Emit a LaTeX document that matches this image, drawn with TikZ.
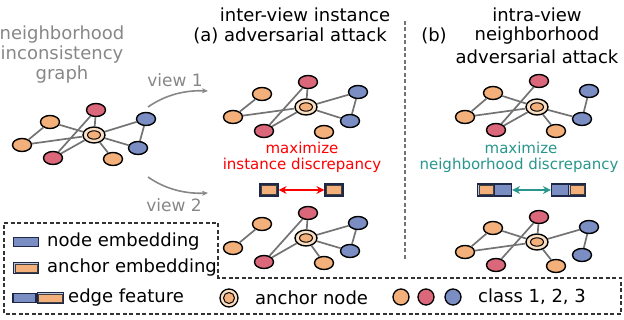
\documentclass[tikz,border=0pt]{standalone}
\usepackage{fontspec}
\setmainfont{DejaVu Sans}
\usetikzlibrary{shapes.geometric,arrows.meta}
\definecolor{orC}{RGB}{244,176,122}
\definecolor{rdC}{RGB}{218,104,122}
\definecolor{blC}{RGB}{122,142,196}
\definecolor{crC}{RGB}{250,224,196}
\definecolor{edC}{RGB}{115,115,115}
\definecolor{txG}{RGB}{135,135,135}
\definecolor{navy}{RGB}{30,40,70}
\definecolor{tealC}{RGB}{40,150,140}
\definecolor{embBg}{RGB}{190,196,215}
\newcommand\mkgraph[9]{%
 \node[rdn] (#1rt) at (#2) {};
 \node[orn] (#1ot) at (#3) {};
 \node[anc] (#1a) at (#4) {};
 \draw[fill=orC,line width=1pt] (#1a.center) ellipse (6.5pt and 4.2pt);
 \node[orn] (#1ol) at (#5) {};
 \node[bln] (#1bt) at (#6) {};
 \node[bln] (#1bb) at (#7) {};
 \node[rdn] (#1rb) at (#8) {};
 \node[orn] (#1ob) at (#9) {};
}
\newcommand\innerbox[1]{%
 \draw[fill=orC,draw=black!75,line width=0.6pt] ([shift={(2pt,-2pt)}]#1.north west) rectangle ([shift={(-2pt,2pt)}]#1.south east);}
\begin{document}
\begin{tikzpicture}[x=1pt,y=-1pt,
 gn/.style={ellipse,draw=black,line width=1.4pt,minimum width=19pt,minimum height=13pt,inner sep=0pt},
 orn/.style={gn,fill=orC}, rdn/.style={gn,fill=rdC}, bln/.style={gn,fill=blC},
 anc/.style={gn,fill=crC,minimum width=22pt,minimum height=16pt},
 ge/.style={draw=edC,line width=1.7pt},
 nemb/.style={rectangle,draw=navy,fill=blC,line width=1.2pt,minimum width=17pt,minimum height=12pt,inner sep=0pt},
 aemb/.style={rectangle,draw=navy,fill=embBg,line width=1.2pt,minimum width=18pt,minimum height=12pt,inner sep=0pt},
 lbl/.style={inner sep=0pt,font=\fontsize{18}{21}\selectfont},
 ttl/.style={inner sep=0pt,font=\fontsize{18}{21}\selectfont},
 cls/.style={circle,draw=black,line width=1.3pt,minimum size=16pt,inner sep=0pt},
 varr/.style={draw=txG,line width=1.6pt,-{Stealth[length=6pt,width=5pt]}}
]
\useasboundingbox (0,0) rectangle (624,320);

% left graph
\node[ttl,text=txG,align=center] (t0) at (62,55) {neighborhood\\[-1pt]inconsistency\\[-1pt]graph};
\mkgraph{g}{96,110}{50,122}{94,135}{22,145}{146,119}{138,148}{53,158}{113,159}
\foreach \p/\q in {ot/ol,ol/a,ot/a,rt/a,rt/rb,rb/a,a/bt,a/bb,bt/bb,a/ob}
  \draw[ge] (g\p) -- (g\q);

% view arrows
\coordinate (v1s) at (148,107); \coordinate (v1e) at (208,91);
\coordinate (v2s) at (148,177); \coordinate (v2e) at (208,193);
\draw[varr] (v1s) .. controls (165,95) and (185,90) .. (v1e);
\draw[varr] (v2s) .. controls (165,189) and (185,194) .. (v2e);
\node[lbl,text=txG,font=\fontsize{17}{20}\selectfont] (vl1) at (175,80) {view 1};
\node[lbl,text=txG,font=\fontsize{17}{20}\selectfont] (vl2) at (174,205) {view 2};

% titles (a)
\node[ttl] (ta1) at (305,15) {inter-view instance};
\node[ttl] (ta2) at (290,36) {(a) adversarial attack};
% titles (b)
\node[ttl] (tb1) at (537,15) {intra-view};
\node[ttl] (tb0) at (434,36) {(b)};
\node[ttl] (tb2) at (537,36) {neighborhood};
\node[ttl] (tb3) at (537,57) {adversarial attack};

% separator
\coordinate (s1) at (405,21); \coordinate (s2) at (405,260);
\draw[draw=black!55,line width=1.2pt,dash pattern=on 4pt off 2.5pt] (s1) -- (s2);

% graphs (a)
\mkgraph{h}{308,82}{262,94}{306,107}{233,117}{358,92}{350,121}{264,131}{324,132}
\foreach \p/\q in {ot/ol,ol/a,rt/a,rt/rb,rb/a,a/bt,a/bb,bt/bb}
  \draw[ge] (h\p) -- (h\q);
\mkgraph{k}{308,213}{262,224}{306,238}{233,248}{358,223}{350,251}{264,262}{324,263}
\foreach \p/\q in {ot/ol,rt/a,rt/rb,rb/a,a/bt,a/bb,bt/bb,a/ob}
  \draw[ge] (k\p) -- (k\q);

% graphs (b)
\mkgraph{m}{539,81}{493,93}{537,107}{465,117}{589,91}{582,119}{496,130}{556,131}
\foreach \p/\q in {ot/ol,ot/a,ol/a,rt/rb,rb/a,a/bb,bt/bb,a/ob}
  \draw[ge] (m\p) -- (m\q);
\mkgraph{n}{539,217}{493,228}{537,242}{465,252}{589,227}{582,255}{496,265}{556,266}
\foreach \p/\q in {ot/ol,ot/a,ol/a,rt/a,rt/rb,a/bt,bt/bb,a/ob}
  \draw[ge] (n\p) -- (n\q);

% discrepancy (a)
\node[lbl,text=red,font=\fontsize{15}{18}\selectfont] (ma) at (302,148) {maximize};
\node[lbl,text=red,font=\fontsize{15}{18}\selectfont] (da) at (302,165) {instance discrepancy};
\node[aemb] (ea1) at (269,190) {}; \innerbox{ea1}
\node[aemb] (ea2) at (334,190) {}; \innerbox{ea2}
\draw[red,line width=2pt,{Stealth[length=8pt,width=8pt]}-{Stealth[length=8pt,width=8pt]}] (ea1) -- (ea2);

% discrepancy (b)
\node[lbl,text=tealC,font=\fontsize{15}{18}\selectfont] (mb) at (521,148) {maximize};
\node[lbl,text=tealC,font=\fontsize{15}{18}\selectfont] (db) at (519,165) {neighborhood discrepancy};
\node[aemb,minimum width=17pt] (eb1) at (486,190) {}; \innerbox{eb1}
\node[nemb] (eb2) at (503,190) {};
\node[nemb] (eb3) at (560,190) {};
\node[aemb,minimum width=17pt] (eb4) at (577,190) {}; \innerbox{eb4}
\draw[tealC,line width=2pt,{Stealth[length=8pt,width=8pt]}-{Stealth[length=8pt,width=8pt]}] (eb2) -- (eb3);

% legend
\coordinate (L1) at (4,223); \coordinate (L2) at (218,223); \coordinate (L3) at (218,278);
\coordinate (L4) at (621,278); \coordinate (L5) at (621,314); \coordinate (L6) at (4,314);
\draw[black!80,line width=1.1pt,dash pattern=on 4pt off 2.5pt] (L1) -- (L2) -- (L3) -- (L4) -- (L5) -- (L6) -- cycle;

\node[nemb,minimum width=25pt,minimum height=9pt] (le1) at (26,242) {};
\node[lbl,anchor=west] (lt1) at (47,242) {node embedding};
\node[aemb,minimum width=25pt,minimum height=11pt] (le2) at (26,268) {}; \innerbox{le2}
\node[lbl,anchor=west] (lt2) at (47,268) {anchor embedding};
\node[nemb,minimum width=23pt,minimum height=9pt] (le3) at (24.5,298) {};
\node[aemb,minimum width=26pt,minimum height=11pt,anchor=west] (le4) at (le3.east) {}; \innerbox{le4}
\node[lbl,anchor=west] (lt3) at (68,298) {edge feature};
\node[cls,fill=crC,minimum size=18pt] (lan) at (229,298) {};
\draw[fill=orC,line width=1pt] (lan.center) circle (5.5pt);
\node[lbl,anchor=west] (lt4) at (255,298) {anchor node};
\node[cls,fill=orC] (c1) at (401,297) {};
\node[cls,fill=rdC] (c2) at (426,297) {};
\node[cls,fill=blC] (c3) at (453,297) {};
\node[lbl,anchor=west] (lt5) at (478,297) {class 1, 2, 3};
\end{tikzpicture}
\end{document}
